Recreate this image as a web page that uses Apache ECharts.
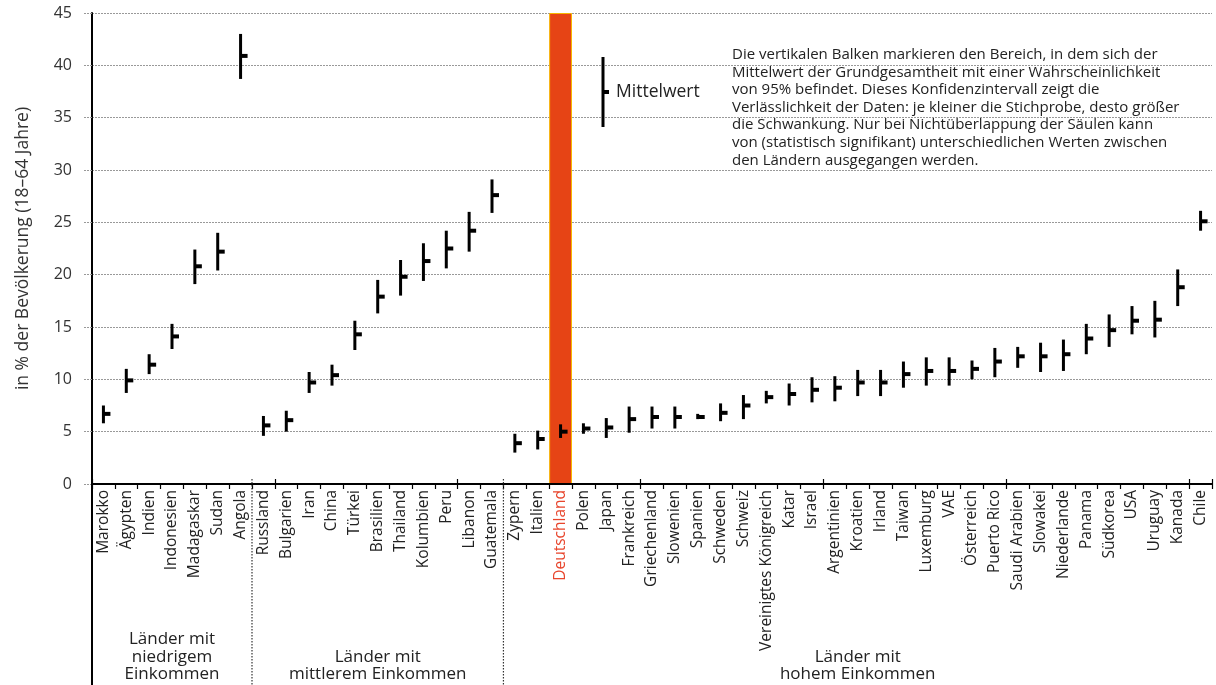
<!DOCTYPE html>
<html>
<head>
<meta charset="utf-8">
<script src="https://cdn.jsdelivr.net/npm/echarts@6/dist/echarts.min.js"></script>
<style>
html,body{margin:0;padding:0;background:#fff;}
#chart{width:1216px;height:685px;}
</style>
</head>
<body>
<div id="chart"></div>
<script>
const categories = ['Marokko','Ägypten','Indien','Indonesien','Madagaskar','Sudan','Angola',
  'Russland','Bulgarien','Iran','China','Türkei','Brasilien','Thailand','Kolumbien','Peru','Libanon','Guatemala',
  'Zypern','Italien','Deutschland','Polen','Japan','Frankreich','Griechenland','Slowenien','Spanien','Schweden','Schweiz',
  'Vereinigtes Königreich','Katar','Israel','Argentinien','Kroatien','Irland','Taiwan','Luxemburg','VAE','Österreich',
  'Puerto Rico','Saudi Arabien','Slowakei','Niederlande','Panama','Südkorea','USA','Uruguay','Kanada','Chile'];
const lowValues = [5.8,8.7,10.5,12.9,19.1,20.4,38.7,
  4.6,5.0,8.7,9.4,12.8,16.3,18.0,19.4,20.6,22.2,25.9,
  3.0,3.3,4.4,4.8,4.4,4.9,5.3,5.3,6.2,6.0,6.2,
  7.7,7.5,7.8,7.9,8.4,8.4,9.2,9.4,9.4,10.0,
  10.2,11.1,10.7,10.8,12.4,13.1,14.3,14.0,17.0,24.2];
const meanValues = [6.7,9.9,11.4,14.1,20.8,22.2,40.9,
  5.6,6.1,9.7,10.4,14.3,17.9,19.8,21.3,22.5,24.2,27.6,
  3.9,4.3,5.0,5.3,5.4,6.2,6.4,6.4,6.4,6.8,7.5,
  8.3,8.6,9.0,9.2,9.7,9.7,10.5,10.8,10.8,11.0,
  11.7,12.2,12.2,12.4,13.9,14.7,15.6,15.7,18.8,25.1];
const highValues = [7.5,11.0,12.4,15.3,22.4,24.0,43.0,
  6.5,7.0,10.7,11.4,15.6,19.5,21.4,23.0,24.2,26.0,29.1,
  4.8,5.1,5.7,5.8,6.3,7.4,7.4,7.4,6.7,7.7,8.5,
  8.9,9.6,10.2,10.3,10.9,10.9,11.7,12.1,12.1,11.8,
  13.0,13.1,13.5,13.8,15.3,16.2,17.0,17.5,20.5,26.1];
const yTicks = [0,5,10,15,20,25,30,35,40,45];
const highlighted = 'Deutschland';
const groups = [
  {label:'Länder mit\nniedrigem\nEinkommen', from:'Marokko', to:'Angola'},
  {label:'Länder mit\nmittlerem Einkommen', from:'Russland', to:'Guatemala'},
  {label:'Länder mit\nhohem Einkommen', from:'Zypern', to:'Chile'}
];
const yAxisTitle = 'in % der Bevölkerung (18–64 Jahre)';
const legendLabel = 'Mittelwert';
const noteText = 'Die vertikalen Balken markieren den Bereich, in dem sich der\nMittelwert der Grundgesamtheit mit einer Wahrscheinlichkeit\nvon 95% befindet. Dieses Konfidenzintervall zeigt die\nVerlässlichkeit der Daten: je kleiner die Stichprobe, desto größer\ndie Schwankung. Nur bei Nichtüberlappung der Säulen kann\nvon (statistisch signifikant) unterschiedlichen Werten zwischen\nden Ländern ausgegangen werden.';

const FONT = '"Open Sans", "Noto Sans", sans-serif';
const chart = echarts.init(document.getElementById('chart'), null, {renderer:'canvas'});

const option = {
  animation: false,
  backgroundColor: '#fff',
  textStyle: {fontFamily: FONT},
  grid: {left: 92, right: 4, top: 13, bottom: 201, containLabel: false},
  xAxis: [{
    type: 'category', data: categories, boundaryGap: true, z: 5,
    axisLine: {show: true, onZero: false, lineStyle: {color: '#000', width: 2}},
    axisTick: {show: true, length: 5, lineStyle: {color: '#000', width: 1.2}},
    axisLabel: {
      rotate: 90, margin: 6, fontSize: 15.5, fontFamily: FONT, interval: 0,
      color: function (v) { return v === highlighted ? '#e8452c' : '#222'; }
    },
    splitLine: {show: false}
  }, {
    type: 'category', data: categories, boundaryGap: true, position: 'bottom', z: 5,
    axisLine: {show: false, onZero: false},
    axisTick: {show: true, inside: true, length: 5, lineStyle: {color: '#000', width: 1.2}},
    axisLabel: {show: false}, splitLine: {show: false}
  }],
  yAxis: {
    type: 'value', min: 0, max: 45, interval: 5,
    name: yAxisTitle, nameLocation: 'middle', nameGap: 60,
    nameTextStyle: {fontSize: 17.5, color: '#333', fontFamily: FONT},
    axisLine: {show: true, lineStyle: {color: '#000', width: 2}},
    axisTick: {show: true, length: 8, lineStyle: {color: '#999', type: [2, 1], width: 1}},
    axisLabel: {margin: 20, fontSize: 16, color: '#333', fontFamily: FONT,
      formatter: function (v) { return yTicks.indexOf(v) >= 0 ? String(v) : ''; }},
    splitLine: {show: true, lineStyle: {color: '#999', type: [2, 1], width: 1}}
  },
  series: [{
    type: 'bar', name: 'highlight', barWidth: '100%', z: 1,
    data: categories.map(c => c === highlighted ? 45 : '-'),
    itemStyle: {color: '#e64415', borderColor: '#f7b500', borderWidth: 1},
    silent: true
  }, {
    type: 'custom', name: 'ci', z: 10,
    encode: {x: 0, y: [1, 2, 3]},
    data: categories.map((c, i) => [i, lowValues[i], meanValues[i], highValues[i]]),
    renderItem: function (params, api) {
      const i = api.value(0);
      const pLo = api.coord([i, api.value(1)]);
      const pM = api.coord([i, api.value(2)]);
      const pHi = api.coord([i, api.value(3)]);
      return {type: 'group', children: [
        {type: 'line', shape: {x1: pLo[0], y1: pLo[1], x2: pHi[0], y2: pHi[1]}, style: {stroke: '#000', lineWidth: 3}},
        {type: 'rect', shape: {x: pM[0], y: pM[1] - 2, width: 7, height: 4}, style: {fill: '#000'}}
      ]};
    }
  }]
};
chart.setOption(option);

// decorations computed from the axis scale
const cx = i => chart.convertToPixel({xAxisIndex: 0}, i);
const step = cx(1) - cx(0);
const edgeLeft = i => cx(i) - step / 2;
const edgeRight = i => cx(i) + step / 2;
const yZero = chart.convertToPixel({yAxisIndex: 0}, 0);
const H = 685;
const graphics = [];
graphics.push({type: 'line', shape: {x1: edgeLeft(0), y1: yZero, x2: edgeLeft(0), y2: H}, style: {stroke: '#000', lineWidth: 2}, z: 20});
groups.forEach((g, gi) => {
  const a = categories.indexOf(g.from), b = categories.indexOf(g.to);
  const l = edgeLeft(a), r = edgeRight(b);
  if (gi > 0) {
    graphics.push({type: 'line', shape: {x1: l, y1: yZero - 5, x2: l, y2: H}, style: {stroke: '#333', lineWidth: 1.2, lineDash: [1.5, 1.5]}, z: 20});
  }
  graphics.push({type: 'text', x: (l + r) / 2, y: 683, z: 20,
    style: {text: g.label, font: '17px ' + FONT, fill: '#222', align: 'center', verticalAlign: 'bottom', lineHeight: 17.5}});
});
graphics.push({type: 'line', shape: {x1: 603, y1: 57, x2: 603, y2: 127}, style: {stroke: '#000', lineWidth: 3}, z: 20});
graphics.push({type: 'rect', shape: {x: 603, y: 90, width: 6, height: 4}, style: {fill: '#000'}, z: 20});
graphics.push({type: 'text', x: 616, y: 92, z: 20, style: {text: legendLabel, font: '17.5px ' + FONT, fill: '#222', verticalAlign: 'middle'}});
graphics.push({type: 'text', x: 732, y: 46, z: 20, style: {text: noteText, font: '15px ' + FONT, fill: '#222', lineHeight: 17.6, verticalAlign: 'top'}});
chart.setOption({graphic: graphics});
</script>
</body>
</html>
